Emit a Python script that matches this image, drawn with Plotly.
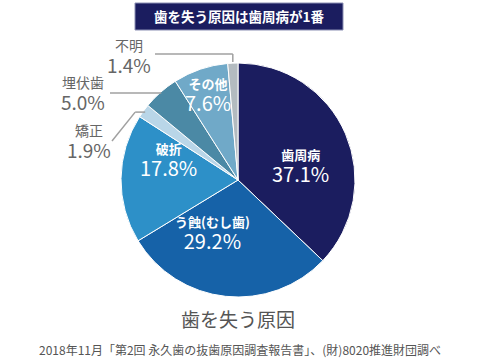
import math
import plotly.graph_objects as go

# ---- data ----
labels = ["歯周病", "う蝕(むし歯)", "破折", "矯正", "埋伏歯", "その他", "不明"]
values = [37.1, 29.2, 17.8, 1.9, 5.0, 7.6, 1.4]
colors = ["#1b1d5f", "#1662a8", "#2d90c8", "#b9d6e8", "#4b89a5", "#70a9c8", "#b3bbc0"]

title_text = "歯を失う原因は歯周病が1番"
chart_caption = "歯を失う原因"
source_text = "2018年11月「第2回 永久歯の抜歯原因調査報告書」、(財)8020推進財団調べ"

W, H = 480, 360
CX, CY, R = 238, 180, 117  # pie centre / radius in pixels

FONT = "Noto Sans CJK JP, Noto Sans, sans-serif"


def px(x, y):
    return x / W, 1 - y / H


def add_text(x, y, text, size, color, weight="normal"):
    ax, ay = px(x, y)
    annotations.append(dict(x=ax, y=ay, xref="paper", yref="paper", text=text, showarrow=False,
                            xanchor="center", yanchor="middle",
                            font=dict(family=FONT, size=size, color=color, weight=weight)))


def two_line(lab, val, name_size, pct_size, bold):
    name = f"<b>{lab}</b>" if bold else lab
    return (f"<span style='font-size:{name_size}px'>{name}</span><br>"
            f"<span style='font-size:{pct_size}px'>{val:.1f}%</span>")


fig = go.Figure()
fig.add_trace(go.Pie(
    labels=labels,
    values=values,
    sort=False,
    direction="clockwise",
    rotation=0,
    marker=dict(colors=colors, line=dict(color="white", width=1)),
    textinfo="none",
    hoverinfo="label+percent",
    showlegend=False,
    domain=dict(x=[(CX - R) / W, (CX + R) / W], y=[(H - CY - R) / H, (H - CY + R) / H]),
))

annotations = []
shapes = []

# inside labels (white): centre x, centre y of the two-line block
inside_pos = {"歯周病": (300, 166), "う蝕(むし歯)": (212, 233),
              "破折": (168, 160), "その他": (208, 96)}
for lab, val in zip(labels, values):
    if lab in inside_pos:
        x, y = inside_pos[lab]
        add_text(x, y, two_line(lab, val, 13, 20, True), 17, "white")

# outside labels (gray) with leader lines
outside_pos = {"不明": (129, 56), "埋伏歯": (83, 94), "矯正": (89, 142)}
for lab, val in zip(labels, values):
    if lab in outside_pos:
        x, y = outside_pos[lab]
        add_text(x, y, two_line(lab, val, 14, 19, False), 17, "#666666")

# leader line end points at the slice mid-angles
total = sum(values)
cum = 0
mid = {}
for lab, val in zip(labels, values):
    mid[lab] = (cum + val / 2) / total * 360
    cum += val


def rim(lab, r=R):
    a = math.radians(mid[lab])
    return CX + r * math.sin(a), CY - r * math.cos(a)


LINE = dict(color="#a0a0a0", width=1.5)


def seg(p0, p1):
    x0, y0 = px(*p0)
    x1, y1 = px(*p1)
    shapes.append(dict(type="line", xref="paper", yref="paper", x0=x0, y0=y0, x1=x1, y1=y1, line=LINE))


ex, ey = rim("不明", R + 1)
seg((155, 54), (ex, 54))
seg((ex, 54), (ex, ey))

ex, ey = rim("埋伏歯", R - 1)
seg((110, ey), (ex, ey))

ex, ey = rim("矯正", R - 2)
seg((112, 141), (ex - 10, ey))
seg((ex - 10, ey), (ex, ey))

# title box
x0, y0 = px(135, 3)
x1, y1 = px(343, 30)
shapes.append(dict(type="rect", xref="paper", yref="paper", x0=x0, y0=y0, x1=x1, y1=y1,
                   fillcolor="#1b1d5f", line=dict(color="#8c90b4", width=1), layer="below"))
add_text(239, 16.5, title_text, 13.5, "white", "bold")

add_text(238, 318, chart_caption, 19, "#555555")
add_text(240, 349, source_text, 12, "#555555")

fig.update_layout(
    width=W, height=H,
    margin=dict(l=0, r=0, t=0, b=0),
    paper_bgcolor="white",
    plot_bgcolor="white",
    annotations=annotations,
    shapes=shapes,
)

fig.write_html(
    "out.html",
    config={"displayModeBar": False},
    post_script="document.body.style.margin='0';document.body.style.overflow='hidden';",
)
